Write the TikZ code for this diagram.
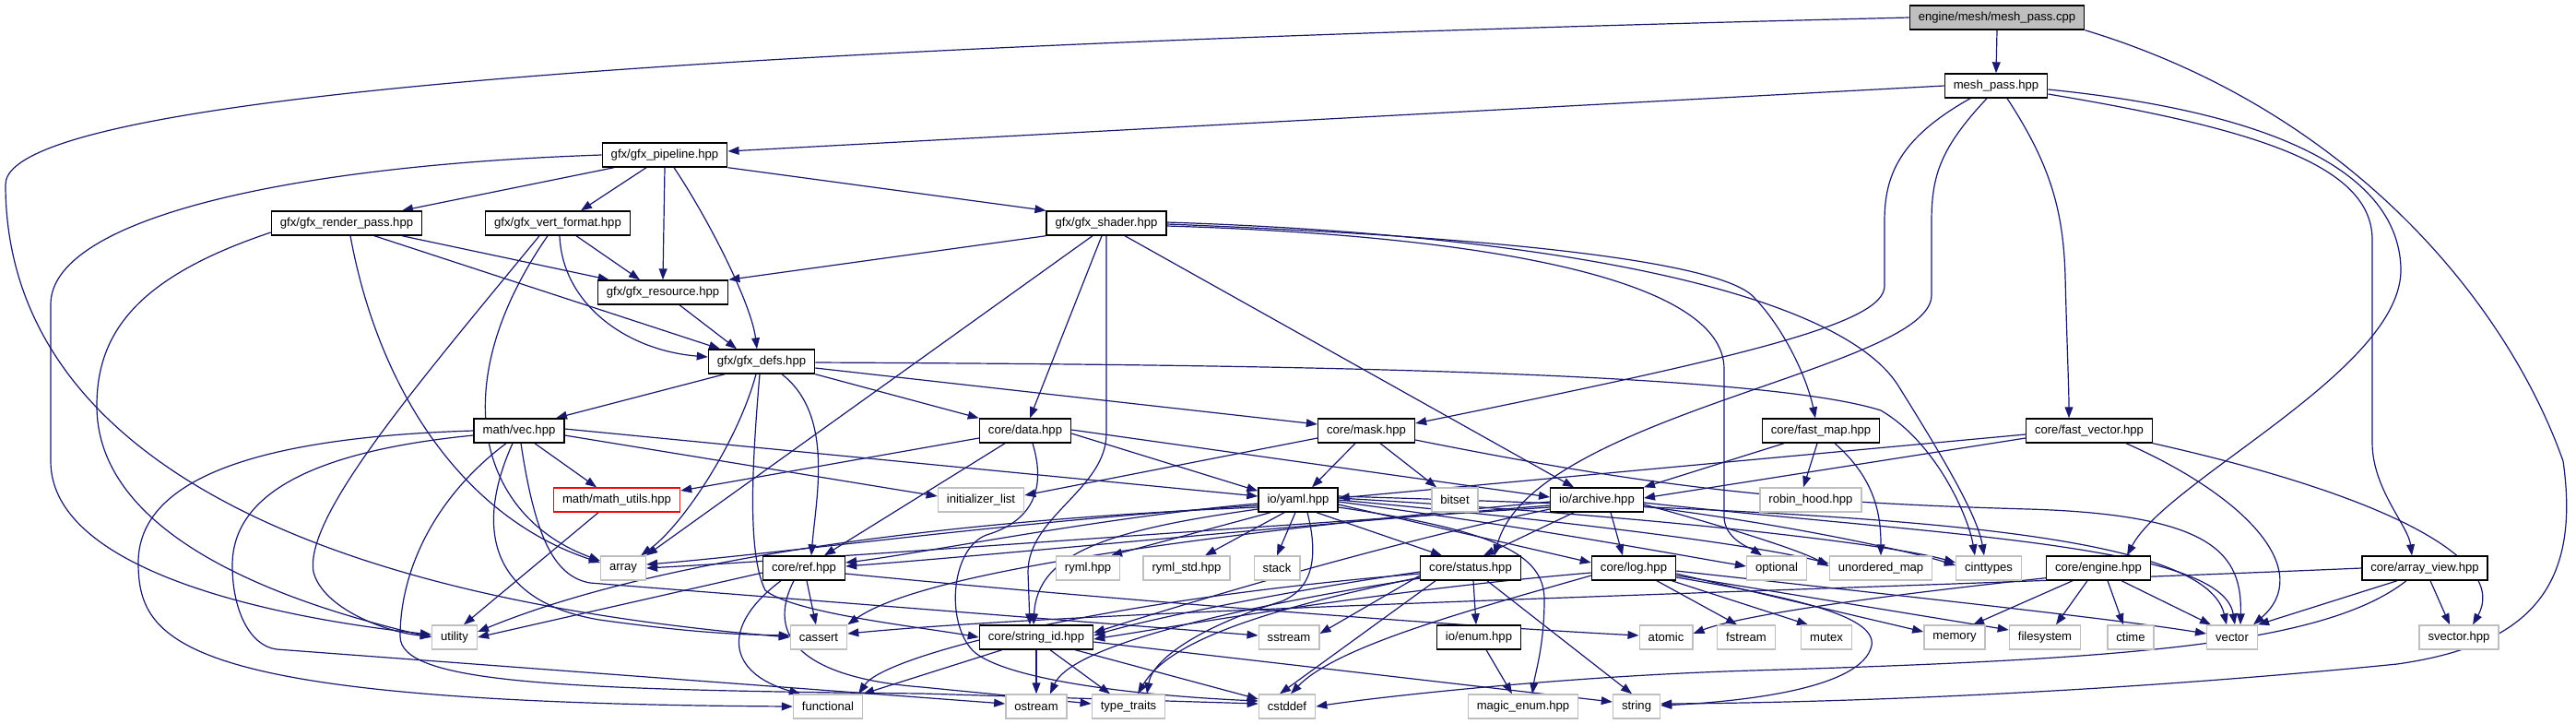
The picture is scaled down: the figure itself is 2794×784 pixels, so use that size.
\documentclass[tikz,border=0pt]{standalone}
\usepackage{fontspec}
\setmainfont{Liberation Sans}
\usetikzlibrary{arrows.meta,calc,backgrounds}
\definecolor{edgecol}{RGB}{25,25,112}
\definecolor{grayb}{RGB}{191,191,191}
\tikzset{
  base/.style={draw, rectangle, minimum height=13pt, inner xsep=4.75pt, inner ysep=0pt,
    font=\fontsize{6.55}{7.5}\selectfont, line width=0.7pt, fill=white, text=black},
  doc/.style={base, draw=black},
  ext/.style={base, draw=grayb},
  rootn/.style={base, draw=black, fill=grayb},
  trunc/.style={base, draw=red},
  e/.style={draw=edgecol, line width=0.6pt, -{Triangle[length=6pt,width=4.4pt]}}
}
\begin{document}
\begin{tikzpicture}[x=0.5pt,y=-0.5pt]
\useasboundingbox (0,0) rectangle (2794,784);
% nodes
\node[rootn] (root) at (2166,19) {engine/mesh/mesh\_pass.cpp};
\node[doc] (mph) at (2165,93) {mesh\_pass.hpp};
\node[doc] (pipe) at (721,168) {gfx/gfx\_pipeline.hpp};
\node[doc] (rpass) at (376,242) {gfx/gfx\_render\_pass.hpp};
\node[doc] (vfmt) at (605,242) {gfx/gfx\_vert\_format.hpp};
\node[doc] (shader) at (1200,242) {gfx/gfx\_shader.hpp};
\node[doc] (res) at (719,317) {gfx/gfx\_resource.hpp};
\node[doc] (defs) at (826,392) {gfx/gfx\_defs.hpp};
\node[doc] (vec) at (563,467) {math/vec.hpp};
\node[doc] (data) at (1112,467) {core/data.hpp};
\node[doc] (mask) at (1482,467) {core/mask.hpp};
\node[doc] (fmap) at (1975,467) {core/fast\_map.hpp};
\node[doc] (fvec) at (2266,467) {core/fast\_vector.hpp};
\node[trunc] (mutils) at (669,542) {math/math\_utils.hpp};
\node[ext] (initl) at (1064,542) {initializer\_list};
\node[doc] (yaml) at (1408,542) {io/yaml.hpp};
\node[ext] (bitset) at (1578,542) {bitset};
\node[doc] (arch) at (1732,542) {io/archive.hpp};
\node[ext] (robin) at (1964,542) {robin\_hood.hpp};
\node[ext] (array) at (676,616) {array};
\node[doc] (ref) at (872,616) {core/ref.hpp};
\node[ext] (ryml) at (1180,616) {ryml.hpp};
\node[ext] (rymlstd) at (1287,616) {ryml\_std.hpp};
\node[ext] (stack) at (1385,616) {stack};
\node[doc] (status) at (1595,616) {core/status.hpp};
\node[doc] (log) at (1772,616) {core/log.hpp};
\node[ext] (optional) at (1927,616) {optional};
\node[ext] (umap) at (2040,616) {unordered\_map};
\node[ext] (cint) at (2157,616) {cinttypes};
\node[doc] (engine) at (2276,616) {core/engine.hpp};
\node[doc] (aview) at (2630,616) {core/array\_view.hpp};
\node[ext] (utility) at (493,691) {utility};
\node[ext] (cassert) at (888,691) {cassert};
\node[doc] (sid) at (1124,691) {core/string\_id.hpp};
\node[ext] (sstream) at (1398,691) {sstream};
\node[doc] (enum) at (1604,691) {io/enum.hpp};
\node[ext] (atomic) at (1807,691) {atomic};
\node[ext] (fstream) at (1894,691) {fstream};
\node[ext] (mutex) at (1981,691) {mutex};
\node[ext] (memory) at (2120,691) {memory};
\node[ext] (fs) at (2218,691) {filesystem};
\node[ext] (ctime) at (2311,691) {ctime};
\node[ext] (vector) at (2421,691) {vector};
\node[ext] (svector) at (2667,691) {svector.hpp};
\node[ext] (functional) at (898,766) {functional};
\node[ext] (ostream) at (1124,766) {ostream};
\node[ext] (tt) at (1224,766) {type\_traits};
\node[ext] (cstddef) at (1396,766) {cstddef};
\node[ext] (menum) at (1652,766) {magic\_enum.hpp};
\node[ext] (string) at (1775,766) {string};

\begin{pgfonlayer}{background}
\fill[white] (0,0) rectangle (2794,784);
% root
\draw[e] (root.south) -- (mph.north);
\draw[e] (root.west) .. controls (1000,45) and (6,90) .. (6,200) .. controls (6,450) and (250,640) .. (cassert.west);
\draw[e] (root.south east) .. controls (2550,120) and (2720,330) .. (2780,500) .. controls (2800,640) and (2740,700) .. (2600,720) .. controls (2300,750) and (2000,762) .. ($(string.east)+(0,-3)$);
% mesh_pass.hpp
\draw[e] (mph.west) -- ($(pipe.east)+(0,-4)$);
\draw[e] ($(mph.south)+(-28,0)$) .. controls (2060,150) and (2044,190) .. (2044,240) -- (2044,310) .. controls (2044,350) and (1900,385) .. ($(mask.east)+(0,-8)$);
\draw[e] ($(mph.south)+(-10,0)$) .. controls (2105,160) and (2095,190) .. (2095,240) -- (2095,320) .. controls (2095,400) and (1660,450) .. ($(status.north)+(26,0)$);
\draw[e] ($(mph.south)+(12,0)$) .. controls (2225,180) and (2238,230) .. (2240,300) .. controls (2242,380) and (2244,420) .. ($(fvec.north)+(-22,0)$);
\draw[e] ($(mph.east)+(0,4)$) .. controls (2450,120) and (2600,180) .. (2604,290) .. controls (2608,400) and (2350,520) .. ($(engine.north)+(31,0)$);
\draw[e] ($(mph.east)+(0,9)$) .. controls (2450,140) and (2573,180) .. (2573,260) -- (2573,480) .. controls (2573,530) and (2612,570) .. ($(aview.north)+(-14,0)$);
% pipeline
\draw[e] ($(pipe.south)+(-55,0)$) -- ($(rpass.north)+(60,0)$);
\draw[e] ($(pipe.south)+(-20,0)$) -- ($(vfmt.north)+(25,0)$);
\draw[e] (pipe.south) -- (res.north);
\draw[e] ($(pipe.south)+(10,0)$) .. controls (770,240) and (815,330) .. ($(defs.north)+(-5,0)$);
\draw[e] (pipe.south east) -- (shader.north west);
\draw[e] (pipe.west) .. controls (300,180) and (55,240) .. (55,330) -- (55,500) .. controls (55,620) and (300,670) .. ($(utility.west)+(0,-3)$);
% render pass
\draw[e] ($(rpass.west)+(0,10)$) .. controls (150,300) and (105,360) .. (105,440) .. controls (105,560) and (250,640) .. (utility.west);
\draw[e] ($(rpass.south)+(4,0)$) .. controls (410,420) and (500,560) .. ($(array.west)+(0,-6)$);
\draw[e] ($(rpass.south)+(60,0)$) -- ($(res.north west)+(13,0)$);
\draw[e] ($(rpass.south)+(30,0)$) -- ($(defs.north)+(-45,0)$);
% vert format
\draw[e] ($(vfmt.south)+(20,0)$) -- ($(res.north)+(-25,0)$);
\draw[e] ($(vfmt.south)+(2,0)$) .. controls (610,330) and (680,380) .. ($(defs.west)+(0,-5)$);
\draw[e] ($(vfmt.south)+(-20,0)$) .. controls (450,420) and (330,560) .. (340,620) .. controls (350,660) and (420,686) .. ($(utility.west)+(0,-1)$);
\draw[e] ($(vfmt.south)+(-11,0)$) .. controls (480,420) and (520,560) .. ($(array.west)+(0,-8)$);
% shader
\draw[e] (shader.south west) -- (res.north east);
\draw[e] ($(shader.south)+(-15,0)$) -- (array.north east);
\draw[e] ($(shader.south)+(-5,0)$) -- ($(data.north)+(5,0)$);
\draw[e] (shader.south) -- (1200,470) .. controls (1200,530) and (1115,560) .. (1115,620) -- ($(sid.north)+(-7,0)$);
\draw[e] ($(shader.south)+(20,0)$) -- ($(arch.north)+(-25,0)$);
\draw[e] ($(shader.east)+(0,3)$) .. controls (1600,255) and (1870,300) .. (1870,400) -- (1870,560) .. controls (1870,585) and (1900,595) .. ($(optional.north)+(-16,0)$);
\draw[e] ($(shader.east)+(0,1)$) .. controls (1650,258) and (1860,285) .. (1900,320) .. controls (1935,355) and (1960,410) .. ($(fmap.north)+(-6,0)$);
\draw[e] ($(shader.east)+(0,-1)$) .. controls (1700,255) and (2000,320) .. (2060,420) .. controls (2110,500) and (2145,560) .. ($(cint.north)+(-5,0)$);
% resource
\draw[e] ($(res.south)+(18,0)$) -- ($(defs.north)+(-27,0)$);
% defs
\draw[e] ($(defs.south)+(-40,0)$) -- ($(vec.north)+(40,0)$);
\draw[e] (defs.south east) -- (data.north west);
\draw[e] ($(defs.east)+(0,7)$) -- ($(mask.west)+(0,-7)$);
\draw[e] ($(defs.east)+(0,1)$) .. controls (1300,395) and (1900,400) .. (2040,445) .. controls (2100,480) and (2135,560) .. ($(cint.north)+(-15,0)$);
\draw[e] ($(defs.south)+(-6,0)$) .. controls (800,480) and (740,570) .. ($(array.north east)+(-6,0)$);
\draw[e] ($(defs.south)+(22,0)$) .. controls (905,450) and (885,540) .. ($(ref.north)+(8,0)$);
\draw[e] ($(defs.south)+(-2,0)$) .. controls (816,500) and (810,600) .. (830,640) .. controls (860,665) and (1000,680) .. (sid.west);
% vec
\draw[e] ($(vec.south)+(17,0)$) -- ($(mutils.north)+(-22,0)$);
\draw[e] ($(vec.east)+(0,5)$) -- ($(initl.west)+(0,-4)$);
\draw[e] ($(vec.east)+(0,-2)$) -- ($(yaml.west)+(0,-4)$);
\draw[e] (vec.west) .. controls (250,475) and (150,530) .. (150,610) .. controls (150,700) and (200,762) .. (functional.west);
\draw[e] ($(vec.west)+(0,5)$) .. controls (330,490) and (252,540) .. (252,613) .. controls (252,660) and (270,700) .. (300,704) -- ($(ostream.west)+(0,-3)$);
\draw[e] ($(vec.south)+(-14,0)$) .. controls (470,540) and (434,620) .. (434,690) .. controls (434,740) and (600,748) .. (1000,752) -- ($(cstddef.west)+(0,-3)$);
\draw[e] ($(vec.south)+(-7,0)$) .. controls (520,560) and (520,650) .. (650,672) .. controls (750,686) and (800,688) .. ($(cassert.west)+(0,-2)$);
\draw[e] ($(vec.south)+(2,0)$) .. controls (580,580) and (600,625) .. (640,632) -- ($(sstream.west)+(0,-2)$);
% data
\draw[e] ($(data.west)+(0,8)$) -- ($(mutils.east)+(0,-10)$);
\draw[e] ($(data.south)+(-22,0)$) -- ($(ref.north)+(22,0)$);
\draw[e] ($(data.south)+(8,0)$) .. controls (1135,530) and (1120,565) .. (1070,580) .. controls (1030,595) and (1025,680) .. (1058,708) .. controls (1100,740) and (1250,755) .. ($(cstddef.west)+(0,-6)$);
\draw[e] ($(data.east)+(0,3)$) -- ($(yaml.north west)+(0,4)$);
\draw[e] ($(data.east)+(0,-1)$) -- ($(arch.west)+(0,-3)$);
% mask
\draw[e] ($(mask.west)+(0,8)$) -- ($(initl.east)+(0,-5)$);
\draw[e] ($(mask.south)+(-12,0)$) -- ($(yaml.north)+(15,0)$);
\draw[e] ($(mask.south)+(15,0)$) -- ($(bitset.north)+(-20,0)$);
\draw[e] ($(mask.east)+(0,10)$) .. controls (1800,530) and (1950,545) .. (2200,552) .. controls (2400,558) and (2432,600) .. ($(vector.north)+(9,0)$);
% fast map
\draw[e] ($(fmap.south)+(-40,0)$) -- (arch.north east);
\draw[e] ($(fmap.south)+(-4,0)$) -- ($(robin.north)+(-8,0)$);
\draw[e] ($(fmap.south)+(15,0)$) .. controls (2035,520) and (2040,560) .. (umap.north);
% fast vector
\draw[e] ($(fvec.west)+(0,4)$) -- ($(yaml.east)+(0,-2)$);
\draw[e] ($(fvec.west)+(0,8)$) -- ($(arch.east)+(0,-2)$);
\draw[e] ($(fvec.south)+(40,0)$) .. controls (2440,540) and (2510,620) .. ($(vector.north east)+(-5,0)$);
\draw[e] (fvec.south east) .. controls (2600,540) and (2720,610) .. ($(svector.north)+(15,0)$);
% math utils
\draw[e] ($(mutils.south)+(-20,0)$) -- ($(utility.north)+(10,0)$);
% yaml
\draw[e] ($(yaml.west)+(0,4)$) .. controls (1200,560) and (1000,600) .. ($(ref.east)+(0,-6)$);
\draw[e] ($(yaml.west)+(0,6)$) .. controls (1100,565) and (850,600) .. ($(array.east)+(0,-4)$);
\draw[e] ($(yaml.west)+(0,8)$) .. controls (1000,565) and (700,610) .. ($(utility.east)+(0,-6)$);
\draw[e] ($(yaml.south)+(-30,0)$) -- ($(ryml.north)+(25,0)$);
\draw[e] ($(yaml.south)+(-15,0)$) -- ($(rymlstd.north)+(20,0)$);
\draw[e] ($(yaml.south)+(-3,0)$) -- (stack.north);
\draw[e] ($(yaml.west)+(0,10)$) .. controls (1200,575) and (1125,600) .. ($(sid.north)+(-3,0)$);
\draw[e] ($(yaml.south)+(10,0)$) .. controls (1432,610) and (1420,640) .. (1390,652) .. controls (1300,680) and (1250,715) .. ($(tt.north)+(20,0)$);
\draw[e] ($(yaml.south)+(20,0)$) -- ($(status.north)+(-31,0)$);
\draw[e] ($(yaml.east)+(0,5)$) -- ($(log.west)+(0,-6)$);
\draw[e] ($(yaml.east)+(0,8)$) .. controls (1620,575) and (1675,600) .. (1675,650) .. controls (1675,700) and (1665,730) .. ($(menum.north)+(10,0)$);
\draw[e] ($(yaml.east)+(0,2)$) .. controls (1650,570) and (1800,598) .. ($(optional.west)+(0,-2)$);
\draw[e] (yaml.east) .. controls (1700,565) and (1900,590) .. ($(umap.west)+(0,-5)$);
\draw[e] ($(yaml.east)+(0,-2)$) .. controls (1800,560) and (2050,590) .. ($(cint.west)+(0,-6)$);
\draw[e] ($(yaml.east)+(0,-4)$) .. controls (2000,555) and (2390,570) .. ($(vector.north)+(-6,0)$);
% archive
\draw[e] ($(arch.west)+(0,6)$) .. controls (1400,570) and (1100,600) .. ($(ref.east)+(0,-2)$);
\draw[e] ($(arch.west)+(0,8)$) .. controls (1300,575) and (900,605) .. (array.east);
\draw[e] ($(arch.south)+(-25,0)$) -- ($(status.north)+(14,0)$);
\draw[e] ($(arch.south)+(15,0)$) -- ($(log.north)+(-12,0)$);
\draw[e] ($(arch.west)+(0,10)$) .. controls (1500,590) and (1300,650) .. ($(sid.east)+(0,-5)$);
\draw[e] ($(arch.west)+(0,2)$) .. controls (1300,580) and (1000,620) .. (cassert.north east);
\draw[e] ($(arch.east)+(0,5)$) .. controls (1850,565) and (1950,595) .. ($(umap.west)+(0,-2)$);
\draw[e] ($(arch.east)+(0,7)$) .. controls (1950,570) and (2080,600) .. ($(cint.west)+(0,-3)$);
\draw[e] ($(arch.east)+(0,3)$) .. controls (2100,580) and (2410,590) .. ($(vector.north)+(3,0)$);
% status
\draw[e] ($(status.west)+(0,4)$) .. controls (1400,640) and (1250,670) .. ($(sid.east)+(0,-2)$);
\draw[e] ($(status.west)+(0,8)$) -- ($(sstream.east)+(0,-4)$);
\draw[e] ($(status.south)+(3,0)$) -- ($(enum.north)+(-3,0)$);
\draw[e] ($(status.south)+(18,0)$) -- ($(string.north)+(-5,0)$);
\draw[e] ($(status.south)+(-38,0)$) -- ($(cstddef.north)+(-8,0)$);
\draw[e] ($(status.west)+(0,10)$) .. controls (1350,665) and (1265,700) .. ($(tt.north)+(10,0)$);
\draw[e] ($(status.west)+(0,11)$) .. controls (1300,665) and (1160,705) .. ($(ostream.north)+(15,0)$);
\draw[e] ($(status.west)+(0,6)$) .. controls (1200,650) and (960,710) .. ($(functional.north east)+(-5,0)$);
% log
\draw[e] ($(log.west)+(0,8)$) .. controls (1600,660) and (1450,700) .. ($(cstddef.north)+(4,0)$);
\draw[e] ($(log.west)+(0,5)$) .. controls (1500,640) and (1300,675) .. ($(sid.east)+(0,2)$);
\draw[e] ($(log.south)+(25,0)$) -- ($(fstream.north)+(-10,0)$);
\draw[e] ($(log.south east)+(-5,0)$) -- ($(mutex.north)+(-20,0)$);
\draw[e] ($(log.east)+(0,6)$) -- ($(memory.west)+(0,-6)$);
\draw[e] ($(log.east)+(0,8)$) -- ($(fs.west)+(0,-8)$);
\draw[e] ($(log.east)+(0,3)$) .. controls (2100,650) and (2300,672) .. ($(vector.west)+(0,-4)$);
\draw[e] ($(log.east)+(0,10)$) .. controls (1960,650) and (2035,670) .. (2030,700) .. controls (2020,745) and (1900,760) .. ($(string.east)+(0,-1)$);
% engine
\draw[e] ($(engine.south west)+(0,-3)$) .. controls (2000,650) and (1880,670) .. ($(atomic.east)+(0,-4)$);
\draw[e] ($(engine.south)+(-28,0)$) -- ($(memory.north)+(20,0)$);
\draw[e] ($(engine.south)+(-12,0)$) -- ($(fs.north)+(12,0)$);
\draw[e] ($(engine.south)+(10,0)$) -- ($(ctime.north)+(-8,0)$);
\draw[e] ($(engine.south)+(25,0)$) -- ($(vector.north west)+(5,0)$);
% array view
\draw[e] ($(aview.south)+(-30,0)$) -- (vector.north east);
\draw[e] ($(aview.south)+(6,0)$) -- ($(svector.north)+(-10,0)$);
\draw[e] ($(aview.south)+(-20,0)$) .. controls (2520,700) and (2300,715) .. (1900,727) .. controls (1700,733) and (1500,755) .. (cstddef.east);
\draw[e] (aview.west) .. controls (2000,640) and (1200,660) .. ($(cassert.east)+(0,-4)$);
% ref
\draw[e] ($(ref.west)+(0,5)$) -- (utility.east);
\draw[e] ($(ref.south)+(3,0)$) -- ($(cassert.north)+(-3,0)$);
\draw[e] ($(ref.south)+(-25,0)$) .. controls (780,680) and (790,730) .. ($(functional.north)+(-30,0)$);
\draw[e] ($(ref.south)+(-11,0)$) .. controls (830,690) and (870,735) .. (1000,745) -- ($(tt.west)+(0,-3)$);
\draw[e] ($(ref.east)+(0,6)$) .. controls (1200,650) and (1600,680) .. ($(atomic.west)+(0,-2)$);
% string_id
\draw[e] ($(sid.south west)+(25,0)$) -- (functional.north east);
\draw[e] (sid.south) -- (ostream.north);
\draw[e] ($(sid.south)+(15,0)$) -- ($(tt.north)+(-20,0)$);
\draw[e] ($(sid.south east)+(-20,0)$) -- ($(cstddef.west)+(0,-8)$);
\draw[e] ($(sid.east)+(0,5)$) -- ($(string.west)+(0,-5)$);
% enum
\draw[e] ($(enum.south)+(8,0)$) -- ($(menum.north)+(-12,0)$);
\end{pgfonlayer}
\end{tikzpicture}
\end{document}
